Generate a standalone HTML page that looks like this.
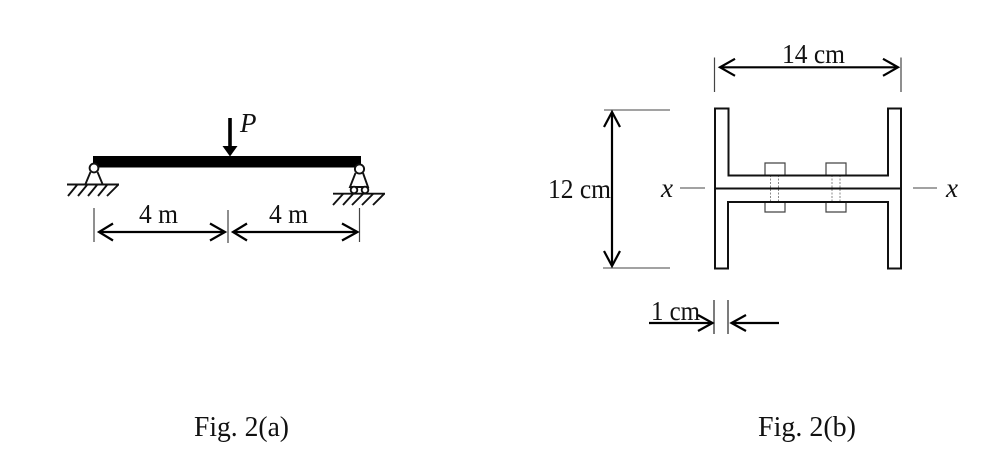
<!DOCTYPE html>
<html>
<head>
<meta charset="utf-8">
<style>
html,body{margin:0;padding:0;background:#fff;width:1000px;height:464px;overflow:hidden}
svg{display:block}
text{font-family:"Liberation Serif",serif;fill:#111}
</style>
</head>
<body>
<svg width="1000" height="464" viewBox="0 0 1000 464" xmlns="http://www.w3.org/2000/svg">
<rect width="1000" height="464" fill="#fff"/>

<!-- Beam -->
<rect x="93" y="156" width="268" height="11.5" fill="#000"/>
<!-- Load P -->
<line x1="230" y1="118" x2="230" y2="148" stroke="#000" stroke-width="3.6"/>
<polygon points="222.5,146 237.5,146 230,156.5" fill="#000"/>
<text x="240" y="132" font-size="27" font-style="italic">P</text>

<!-- Left support -->
<g fill="none" stroke="#111" stroke-width="1.9">
<path d="M90.5,172 L85.5,184 M97.5,172 L102.5,184"/>
<circle cx="94" cy="168" r="4.4" fill="#fff"/>
<line x1="67" y1="184.5" x2="119" y2="184.5"/>
<path d="M77,185 L68,196 M87,185 L78,196 M97,185 L88,196 M107,185 L98,196 M118,185 L107,196"/>
</g>

<!-- Right support -->
<g fill="none" stroke="#111" stroke-width="1.9">
<path d="M355.5,173 L350,187 L368,187 L363,173"/>
<circle cx="359.5" cy="169" r="4.6" fill="#fff"/>
<circle cx="354" cy="190" r="3.3" fill="#fff"/>
<circle cx="365" cy="190" r="3.3" fill="#fff"/>
<line x1="333" y1="193.7" x2="385" y2="193.7"/>
<path d="M343,194 L333,205 M353,194 L343,205 M363,194 L352,205 M373,194 L362,205 M384,194 L373,205"/>
</g>

<!-- Beam dimensions -->
<g stroke="#444" stroke-width="1.2" fill="none">
<line x1="94" y1="208" x2="94" y2="242"/>
<line x1="228" y1="210" x2="228" y2="243"/>
<line x1="359.5" y1="208" x2="359.5" y2="242"/>
</g>
<g stroke="#000" stroke-width="2.2" fill="none">
<line x1="99" y1="232" x2="224" y2="232"/>
<path d="M113,223.5 L99,232 L113,240.5"/>
<path d="M210,223.5 L225,232 L210,240.5"/>
<line x1="233" y1="232" x2="357" y2="232"/>
<path d="M247,223.5 L233,232 L247,240.5"/>
<path d="M342,223.5 L357.5,232 L342,240.5"/>
</g>
<text x="139" y="223" font-size="27" textLength="39" lengthAdjust="spacingAndGlyphs">4 m</text>
<text x="269" y="223" font-size="27" textLength="39" lengthAdjust="spacingAndGlyphs">4 m</text>

<!-- Section top dimension -->
<g stroke="#444" stroke-width="1.2" fill="none">
<line x1="714.5" y1="57.5" x2="714.5" y2="92"/>
<line x1="901" y1="57.5" x2="901" y2="92"/>
</g>
<g stroke="#000" stroke-width="2.2" fill="none">
<line x1="720" y1="67.3" x2="897" y2="67.3"/>
<path d="M735,58.8 L720,67.3 L735,75.8"/>
<path d="M883,58.8 L898,67.3 L883,75.8"/>
</g>
<text x="782" y="63" font-size="27" textLength="63" lengthAdjust="spacingAndGlyphs">14 cm</text>

<!-- Left dimension -->
<g stroke="#444" stroke-width="1.1" fill="none">
<line x1="604" y1="110" x2="670" y2="110"/>
<line x1="603" y1="268" x2="670" y2="268"/>
</g>
<g stroke="#000" stroke-width="2.2" fill="none">
<line x1="612" y1="113" x2="612" y2="265"/>
<path d="M604,127 L612,112 L620,127"/>
<path d="M604,251 L612,266 L620,251"/>
</g>
<text x="548" y="198" font-size="27" textLength="63" lengthAdjust="spacingAndGlyphs">12 cm</text>

<!-- x labels -->
<text x="661" y="197" font-size="27" font-style="italic" textLength="12" lengthAdjust="spacingAndGlyphs">x</text>
<text x="946" y="197" font-size="27" font-style="italic" textLength="12" lengthAdjust="spacingAndGlyphs">x</text>
<g stroke="#444" stroke-width="1.1">
<line x1="680" y1="188" x2="705" y2="188"/>
<line x1="913" y1="188" x2="937" y2="188"/>
</g>

<!-- Bolts -->
<g fill="none" stroke="#444" stroke-width="1.2">
<path d="M765,175 V163 H785 V175"/>
<path d="M826,175 V163 H846 V175"/>
<path d="M765,202 V212 H785 V202"/>
<path d="M826,202 V212 H846 V202"/>
</g>
<g stroke="#888" stroke-width="1" stroke-dasharray="2 1.5">
<line x1="770.5" y1="175" x2="770.5" y2="202"/>
<line x1="778.5" y1="175" x2="778.5" y2="202"/>
<line x1="832" y1="175" x2="832" y2="202"/>
<line x1="840" y1="175" x2="840" y2="202"/>
</g>

<!-- Section outline -->
<g fill="none" stroke="#111" stroke-width="2">
<path d="M715,188.5 V108.5 H728.5 V175.5 H888 V108.5 H901 V188.5"/>
<path d="M715,188.5 V268.5 H728 V202 H888 V268.5 H901 V188.5"/>
<line x1="715" y1="188.5" x2="901" y2="188.5"/>
</g>

<!-- 1 cm dimension -->
<text x="651" y="320" font-size="27" textLength="49" lengthAdjust="spacingAndGlyphs">1 cm</text>
<g stroke="#444" stroke-width="1.4" fill="none">
<line x1="714" y1="300" x2="714" y2="334"/>
<line x1="728" y1="300" x2="728" y2="334"/>
</g>
<g stroke="#000" stroke-width="2.2" fill="none">
<line x1="649" y1="323" x2="712" y2="323"/>
<path d="M698,315 L712.5,323 L698,331"/>
<line x1="732" y1="323" x2="779" y2="323"/>
<path d="M746,315 L731.5,323 L746,331"/>
</g>

<!-- Captions -->
<text x="194" y="436" font-size="29" textLength="95" lengthAdjust="spacingAndGlyphs">Fig. 2(a)</text>
<text x="758" y="436" font-size="29" textLength="98" lengthAdjust="spacingAndGlyphs">Fig. 2(b)</text>
</svg>
</body>
</html>
